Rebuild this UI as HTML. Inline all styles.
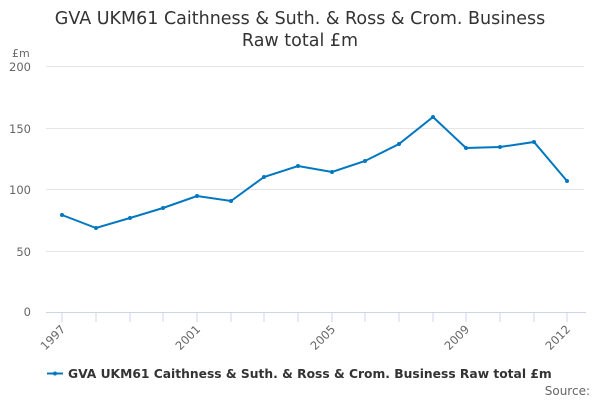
<!DOCTYPE html>
<html><head><meta charset="utf-8"><style>
html,body{margin:0;padding:0;background:#fff;width:600px;height:400px;overflow:hidden}
text{font-family:"DejaVu Sans","Liberation Sans",sans-serif}
</style></head><body>
<svg width="600" height="400" xmlns="http://www.w3.org/2000/svg">
<text x="300" y="24" text-anchor="middle" font-size="17.5" fill="#333">GVA UKM61 Caithness &amp; Suth. &amp; Ross &amp; Crom. Business</text>
<text x="300" y="46" text-anchor="middle" font-size="17.5" fill="#333">Raw total £m</text>
<text x="12" y="57" font-size="11" fill="#666">£m</text>
<g stroke="#e6e6e6" stroke-width="1">
<line x1="46" x2="584" y1="66.5" y2="66.5"/>
<line x1="46" x2="584" y1="128.5" y2="128.5"/>
<line x1="46" x2="584" y1="189.5" y2="189.5"/>
<line x1="46" x2="584" y1="251.5" y2="251.5"/>
</g>
<g font-size="11.5" fill="#666" text-anchor="end">
<text x="31" y="71">200</text><text x="31" y="133">150</text><text x="31" y="194">100</text><text x="31" y="256">50</text><text x="31" y="316">0</text>
</g>
<line x1="46" x2="586" y1="312.5" y2="312.5" stroke="#ccd6eb"/>
<g stroke="#ccd6eb">
<line x1="62" x2="62" y1="312" y2="322"/><line x1="96" x2="96" y1="312" y2="322"/><line x1="130" x2="130" y1="312" y2="322"/><line x1="163" x2="163" y1="312" y2="322"/><line x1="197" x2="197" y1="312" y2="322"/><line x1="231" x2="231" y1="312" y2="322"/><line x1="264" x2="264" y1="312" y2="322"/><line x1="298" x2="298" y1="312" y2="322"/><line x1="332" x2="332" y1="312" y2="322"/><line x1="365" x2="365" y1="312" y2="322"/><line x1="399" x2="399" y1="312" y2="322"/><line x1="433" x2="433" y1="312" y2="322"/><line x1="466" x2="466" y1="312" y2="322"/><line x1="500" x2="500" y1="312" y2="322"/><line x1="534" x2="534" y1="312" y2="322"/><line x1="567" x2="567" y1="312" y2="322"/>
</g>
<g font-size="11.5" fill="#666" text-anchor="end">
<text transform="translate(66,330) rotate(-45)">1997</text>
<text transform="translate(201,330) rotate(-45)">2001</text>
<text transform="translate(336,330) rotate(-45)">2005</text>
<text transform="translate(470,330) rotate(-45)">2009</text>
<text transform="translate(571,330) rotate(-45)">2012</text>
</g>
<polyline fill="none" stroke="#0077c0" stroke-width="2" points="62,215 96,228 130,218 163,208 197,196 231,201 264,177 298,166 332,172 365,161 399,144 433,117 466,148 500,147 534,142 567,181"/>
<g fill="#0077c0">
<circle cx="62" cy="215" r="2"/><circle cx="96" cy="228" r="2"/><circle cx="130" cy="218" r="2"/><circle cx="163" cy="208" r="2"/><circle cx="197" cy="196" r="2"/><circle cx="231" cy="201" r="2"/><circle cx="264" cy="177" r="2"/><circle cx="298" cy="166" r="2"/><circle cx="332" cy="172" r="2"/><circle cx="365" cy="161" r="2"/><circle cx="399" cy="144" r="2"/><circle cx="433" cy="117" r="2"/><circle cx="466" cy="148" r="2"/><circle cx="500" cy="147" r="2"/><circle cx="534" cy="142" r="2"/><circle cx="567" cy="181" r="2"/>
</g>
<line x1="47" x2="63" y1="373.5" y2="373.5" stroke="#0077c0" stroke-width="2"/>
<circle cx="55" cy="373.5" r="2" fill="#0077c0"/>
<text x="68" y="378" font-size="12.3" font-weight="bold" fill="#333">GVA UKM61 Caithness &amp; Suth. &amp; Ross &amp; Crom. Business Raw total £m</text>
<text x="590" y="395" text-anchor="end" font-size="12" fill="#666">Source:</text>
</svg>
</body></html>
